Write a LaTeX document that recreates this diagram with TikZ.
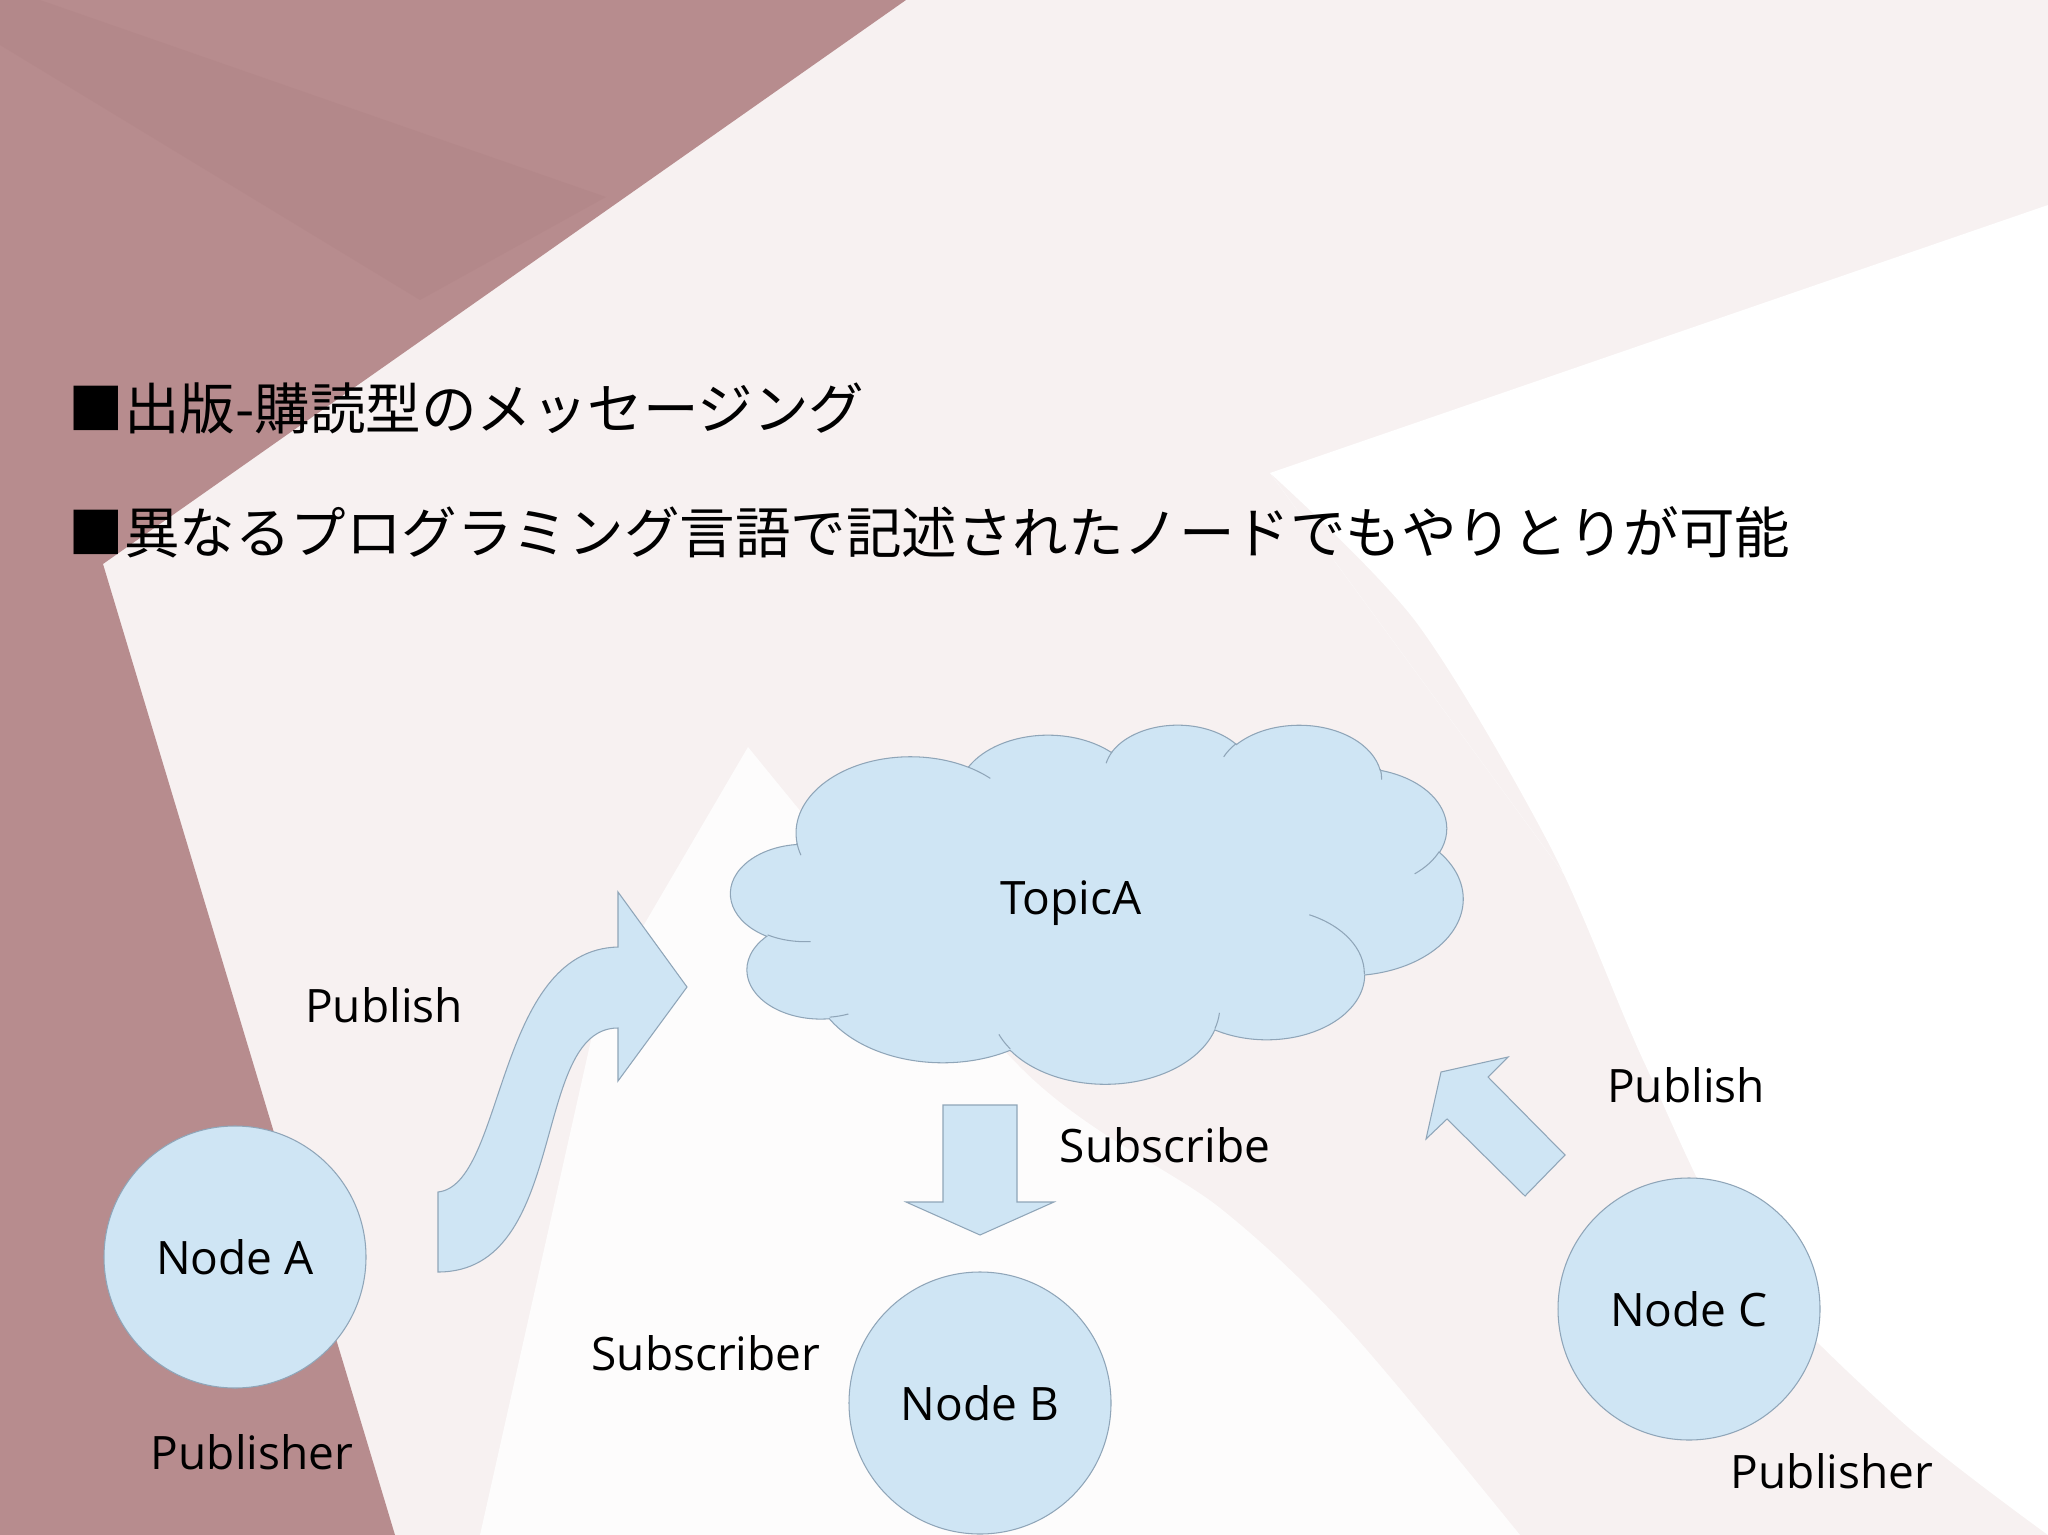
\documentclass[tikz,border=0pt]{standalone}
\usepackage{fontspec}
\setmainfont{Open Sans}
\newfontfamily\jpfont{Noto Sans CJK JP}

\definecolor{slidedark}{HTML}{B78C8E}
\definecolor{slidedarker}{HTML}{A97A7D}
\definecolor{slidepink}{HTML}{F7F1F1}
\definecolor{nodefill}{HTML}{CFE5F4}
\definecolor{nodeedge}{HTML}{8FA5B8}

\newcommand{\labelfont}{\fontsize{13.1pt}{15pt}\selectfont}
\newcommand{\titlefont}{\jpfont\fontsize{15.8pt}{19pt}\selectfont}

\begin{document}
\begin{tikzpicture}[x=0.1mm, y=-0.1mm,
  rosnode/.style={circle, draw=nodeedge, line width=0.3pt, fill=nodefill, minimum size=26.2mm, inner sep=0pt, font=\labelfont},
  roletext/.style={anchor=base, inner sep=0pt, font=\labelfont},
  blockarrow/.style={draw=nodeedge, line width=0.3pt, fill=nodefill}]
  \useasboundingbox (0, 0) rectangle (2048, 1535);

  % slide background
  \fill[slidepink] (0, 0) rectangle (2048, 1535);
  \fill[white] (1270, 473) -- (2048, 205) -- (2048, 1535)
    plot[smooth] coordinates {(2048, 1535) (1900, 1420) (1742, 1258) (1644, 1062) (1551, 848) (1416, 622) (1270, 473)} -- cycle;
  \fill[white!80!slidepink] (748, 747) plot[smooth] coordinates {(748, 747) (1024, 1071) (1220, 1208) (1350, 1331) (1520, 1535)}
    -- (480, 1535) -- (600, 1000) -- cycle;
  \fill[slidedark] (0, 0) -- (906, 0) -- (103, 564) -- (395, 1535) -- (0, 1535) -- cycle;
  \fill[slidedarker, opacity=0.22] (40, 0) -- (606, 197) -- (420, 300) -- (0, 45) -- (0, 0) -- cycle;

  % bullet lines
  \node (point-pubsub) [anchor=base west, inner sep=0pt, font=\titlefont] at (68, 430) {■出版-購読型のメッセージング};
  \node (point-lang) [anchor=base west, inner sep=0pt, font=\titlefont] at (68, 554) {■異なるプログラミング言語で記述されたノードでもやりとりが可能};

  % topic cloud
  \begin{scope}[shift={(731, 724)}, xscale=0.16944, yscale=0.083102]
    \draw[blockarrow] (390, 1437)
      arc[start angle=-187.75, delta angle=128.10, x radius=675.3, y radius=919.0]
      arc[start angle=-152.02, delta angle=106.57, x radius=533.3, y radius=726.7]
      arc[start angle=-153.49, delta angle=116.16, x radius=436.5, y radius=594.5]
      arc[start angle=-139.71, delta angle=129.50, x radius=485.7, y radius=659.5]
      arc[start angle=-74.77, delta angle=97.98, x radius=533.3, y radius=727.3]
      arc[start angle=-37.53, delta angle=119.39, x radius=677.5, y radius=922.0]
      arc[start angle=0.46, delta angle=121.52, x radius=578.5, y radius=786.7]
      arc[start angle=16.84, delta angle=129.40, x radius=675.2, y radius=921.5]
      arc[start angle=58.99, delta angle=91.20, x radius=772.0, y radius=1054.3]
      arc[start angle=-276.70, delta angle=139.80, x radius=436.0, y radius=591.8]
      arc[start angle=-239.65, delta angle=143.76, x radius=434.5, y radius=594.5]
      -- cycle;
    \draw[draw=nodeedge, line width=0.3pt]
      (469.3, 2617.7) arc[start angle=85.55, delta angle=34.81, x radius=434.5, y radius=594.5]
      (692.8, 3489.9) arc[start angle=68.24, delta angle=15.07, x radius=436.0, y radius=591.8]
      (1647.8, 3909.0) arc[start angle=146.24, delta angle=12.24, x radius=675.2, y radius=921.5]
      (2882.7, 3475.1) arc[start angle=4.74, delta angle=12.11, x radius=675.2, y radius=921.5]
      (3412.9, 2295.4) arc[start angle=-64.02, delta angle=64.48, x radius=578.5, y radius=786.7]
      (4179.8, 1535.4) arc[start angle=23.21, delta angle=26.43, x radius=533.3, y radius=727.3]
      (3832.4, 542.6) arc[start angle=-10.21, delta angle=11.03, x radius=485.7, y radius=659.5]
      (2907.8, 395.2) arc[start angle=-156.28, delta angle=16.57, x radius=485.7, y radius=659.5]
      (2214.1, 472.0) arc[start angle=-167.73, delta angle=14.24, x radius=436.5, y radius=594.5]
      (1400.0, 519.2) arc[start angle=-59.65, delta angle=13.92, x radius=675.3, y radius=919.0]
      (412.7, 1578.9) arc[start angle=163.19, delta angle=9.06, x radius=675.3, y radius=919.0];
  \end{scope}
  \node (topic-a) [roletext] at (1071, 914) {TopicA};

  % nodes
  \node (node-a) [rosnode] at (235, 1257) {Node A};
  \node (node-b) [rosnode] at (980, 1403) {Node B};
  \node (node-c) [rosnode] at (1689, 1309) {Node C};

  % block arrows
  \draw[blockarrow] (438, 1192) .. controls (505, 1185) and (495, 950) .. (618, 947) -- (618, 892) -- (687, 987)
    -- (618, 1081) -- (618, 1028) .. controls (530, 1028) and (570, 1272) .. (438, 1272) -- cycle;
  \draw[blockarrow] (943, 1105) -- (1017, 1105) -- (1017, 1202) -- (1054, 1202) -- (980, 1235)
    -- (906, 1202) -- (943, 1202) -- cycle;
  \draw[blockarrow] (1441, 1072) -- (1508, 1057) -- (1488, 1077) -- (1565, 1155) -- (1525, 1196)
    -- (1447, 1119) -- (1426, 1139) -- cycle;

  % labels
  \node (publish-a) [roletext] at (384, 1022) {Publish};
  \node (publisher-a) [roletext] at (252, 1469) {Publisher};
  \node (subscriber-b) [roletext] at (706, 1370) {Subscriber};
  \node (subscribe-b) [roletext] at (1165, 1162) {Subscribe};
  \node (publish-c) [roletext] at (1686, 1102) {Publish};
  \node (publisher-c) [roletext] at (1832, 1488) {Publisher};
\end{tikzpicture}
\end{document}
